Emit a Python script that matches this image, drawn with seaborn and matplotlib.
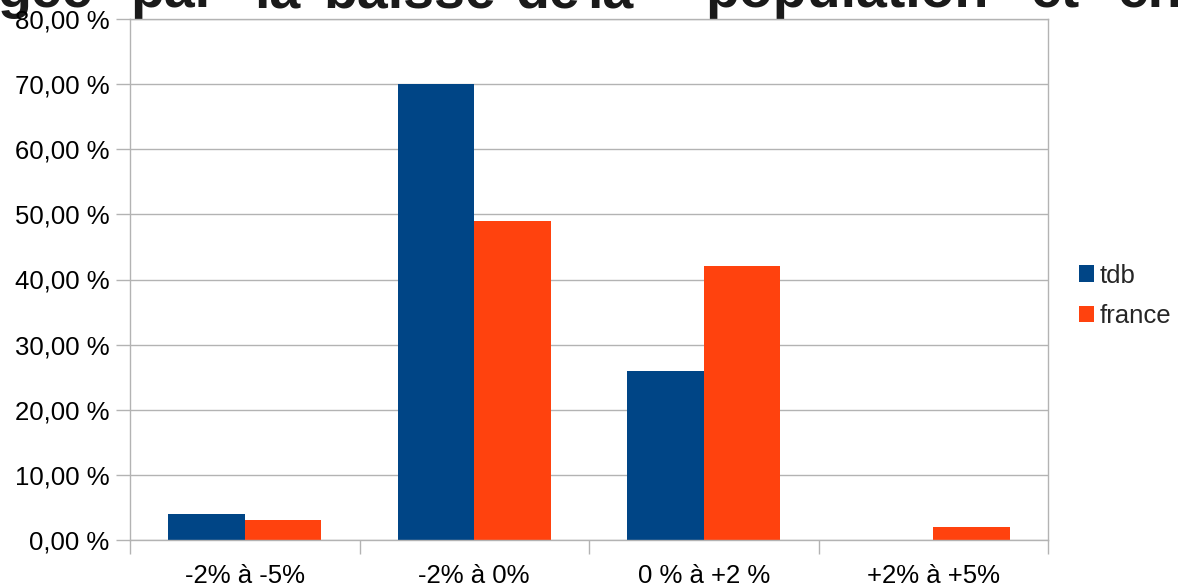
import numpy as np
import pandas as pd
import matplotlib
matplotlib.use("Agg")
import matplotlib.pyplot as plt
from matplotlib.ticker import FuncFormatter, FixedLocator
import seaborn as sns

# données
classes = ['-2% à -5%', '-2% à 0%', '0 % à +2 %', '+2% à +5%']
tdb = [4.0, 70.0, 26.0, 0.0]
france = [3.0, 49.0, 42.0, 2.0]
series = ['tdb', 'france']
couleurs = ['#004586', '#ff420e']

# titre coupé en haut de l'image
mots_titre = ['gée', 'par', 'la', 'baisse', 'de', 'la', 'population', 'et', 'en']
centres_titre = [45, 174, 277, 410, 548, 610, 847, 1055, 1150]

df = pd.DataFrame({
    'classe': classes * 2,
    'valeur': tdb + france,
    'serie': ['tdb'] * len(classes) + ['france'] * len(classes),
})

sns.set_theme(style='white')
plt.rcParams['font.family'] = ['Liberation Sans', 'DejaVu Sans']

W, H = 1178, 587
fig = plt.figure(figsize=(W / 100, H / 100), dpi=100)
ax = fig.add_axes([130 / W, 1 - 540 / H, (1048 - 130) / W, (540 - 19) / H])

sns.barplot(data=df, x='classe', y='valeur', hue='serie', hue_order=series,
            palette=couleurs, saturation=1, width=2 / 3, gap=0,
            linewidth=0, errorbar=None, ax=ax)

gris = '#b3b3b3'
taille = 18.5
ax.set_xlim(-0.5, len(classes) - 0.5)
ax.set_ylim(0, 80)
ax.set_yticks(np.arange(0, 81, 10))
ax.yaxis.set_major_formatter(FuncFormatter(lambda v, p: f'{v:.2f} %'.replace('.', ',')))
ax.grid(axis='y', color=gris, linewidth=1)
ax.set_axisbelow(True)
for s in ax.spines.values():
    s.set_color(gris)
    s.set_linewidth(1)

ax.xaxis.set_minor_locator(FixedLocator(np.arange(-0.5, len(classes), 1)))
ax.tick_params(axis='x', which='major', length=0, pad=17, labelsize=taille, colors='black')
ax.tick_params(axis='x', which='minor', length=10, width=1, color=gris, bottom=True)
ax.tick_params(axis='y', length=10, width=1, color=gris, left=True, pad=5,
               labelsize=taille, labelcolor='black')
ax.set_xlabel('')
ax.set_ylabel('')

leg = ax.legend(loc='center left', bbox_to_anchor=(1079 / W, 1 - 296 / H),
                bbox_transform=fig.transFigure, frameon=False, fontsize=taille,
                handlelength=0.6, handleheight=0.6, handletextpad=0.2,
                labelspacing=0.65, borderaxespad=0, borderpad=0)

for mot, cx in zip(mots_titre, centres_titre):
    fig.text(cx / W, 1 - 7 / H, mot, ha='center', va='baseline',
             fontsize=40, fontweight='bold', color='#1a1a1a', zorder=-1)

fig.savefig('out.png', dpi=100)
